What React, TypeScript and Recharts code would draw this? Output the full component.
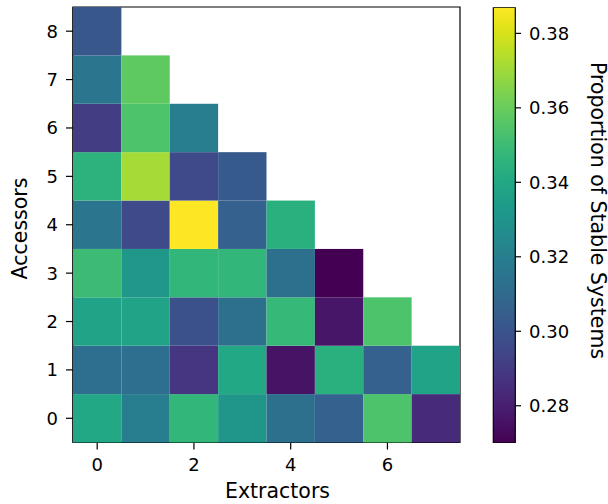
import React from "react";
import {
  ScatterChart,
  Scatter,
  XAxis,
  YAxis,
  ReferenceArea,
  BarChart,
  Bar,
} from "recharts";

const FONT = "DejaVu Sans";

// proportion of stable systems, one row per number of accessors (0..8),
// one entry per number of extractors starting at 0
const accessors = [0, 1, 2, 3, 4, 5, 6, 7, 8];
const extractors = [0, 1, 2, 3, 4, 5, 6, 7];
const row0 = [0.34, 0.319, 0.347, 0.331, 0.313, 0.306, 0.354, 0.284];
const row1 = [0.312, 0.312, 0.288, 0.34, 0.276, 0.344, 0.306, 0.338];
const row2 = [0.338, 0.338, 0.299, 0.313, 0.348, 0.277, 0.354];
const row3 = [0.35, 0.332, 0.347, 0.347, 0.313, 0.27];
const row4 = [0.316, 0.296, 0.387, 0.306, 0.344];
const row5 = [0.345, 0.371, 0.296, 0.303];
const row6 = [0.291, 0.354, 0.319];
const row7 = [0.316, 0.358];
const row8 = [0.302];
const rows = [row0, row1, row2, row3, row4, row5, row6, row7, row8];

const xTicks = [0, 2, 4, 6];
const cbTicks = [0.28, 0.3, 0.32, 0.34, 0.36, 0.38];
const VMIN = 0.27;
const VMAX = 0.387;

const viridisStops = [
  "#440154", "#471365", "#482475", "#463480", "#414487", "#3b528b",
  "#355f8d", "#2f6c8e", "#2a788e", "#25848e", "#21918c", "#1e9c89",
  "#22a884", "#2fb47c", "#44bf70", "#5ec962", "#7ad151", "#9bd93c",
  "#bddf26", "#dfe318", "#fde725",
];

function hexToRgb(h: string) {
  return [1, 3, 5].map((i) => parseInt(h.slice(i, i + 2), 16));
}

function viridis(t: number) {
  const c = Math.max(0, Math.min(1, t)) * (viridisStops.length - 1);
  const i = Math.min(Math.floor(c), viridisStops.length - 2);
  const f = c - i;
  const a = hexToRgb(viridisStops[i]);
  const b = hexToRgb(viridisStops[i + 1]);
  const m = a.map((v, k) => Math.round(v + (b[k] - v) * f));
  return `rgb(${m[0]},${m[1]},${m[2]})`;
}

const cells = rows.flatMap((r, yi) =>
  r.map((v, xi) => ({ x: extractors[xi], y: accessors[yi], v }))
);

// layout of the heatmap
const W = 470;
const H = 504;
const MARGIN = { top: 7, right: 10, bottom: 0, left: 0 };
const Y_AXIS_W = 73;
const X_AXIS_H = 61.5;
const PLOT_W = W - MARGIN.left - MARGIN.right - Y_AXIS_W;
const PLOT_H = H - MARGIN.top - MARGIN.bottom - X_AXIS_H;
const CELL_W = PLOT_W / extractors.length;
const CELL_H = PLOT_H / accessors.length;

const HeatCell = (p: any) => (
  <rect
    x={p.cx - CELL_W / 2}
    y={p.cy - CELL_H / 2}
    width={CELL_W}
    height={CELL_H}
    fill={viridis((p.payload.v - VMIN) / (VMAX - VMIN))}
  />
);

const tickStyle = { fill: "#000", fontSize: 18, fontFamily: FONT };
const axisLine = { stroke: "#000", strokeWidth: 1.2 };

export default function App() {
  return (
    <div style={{ position: "absolute", left: 0, top: 0, width: 608, height: 504, background: "#fff" }}>
      <div style={{ position: "absolute", left: 0, top: 0 }}>
        <ScatterChart width={W} height={H} margin={MARGIN}>
          <XAxis
            type="number"
            dataKey="x"
            domain={[-0.5, 7.5]}
            ticks={xTicks}
            height={X_AXIS_H}
            tick={tickStyle}
            tickSize={7}
            tickMargin={9}
            axisLine={axisLine}
            tickLine={axisLine}
            label={{
              content: () => (
                <text x={277.5} y={498} textAnchor="middle" fontSize={20.5} fontFamily={FONT} fill="#000">
                  Extractors
                </text>
              ),
            }}
          />
          <YAxis
            type="number"
            dataKey="y"
            domain={[-0.5, 8.5]}
            ticks={accessors}
            width={Y_AXIS_W}
            tick={tickStyle}
            tickSize={7}
            tickMargin={8}
            axisLine={axisLine}
            tickLine={axisLine}
            label={{
              content: () => (
                <text
                  x={27}
                  y={228.5}
                  transform="rotate(-90, 27, 228.5)"
                  textAnchor="middle"
                  fontSize={20.5}
                  fontFamily={FONT}
                  fill="#000"
                >
                  Accessors
                </text>
              ),
            }}
          />
          <Scatter data={cells} shape={HeatCell} isAnimationActive={false} />
          <ReferenceArea
            x1={-0.5}
            x2={7.5}
            y1={-0.5}
            y2={8.5}
            fill="none"
            fillOpacity={0}
            stroke="#000"
            strokeWidth={1.2}
            strokeOpacity={1}
          />
        </ScatterChart>
      </div>
      <div style={{ position: "absolute", left: 480, top: 0 }}>
        <BarChart
          width={128}
          height={504}
          data={[{ name: "cb", range: [VMIN, VMAX] }]}
          margin={{ top: 7.3, right: 0, bottom: 61, left: 13.3 }}
          barCategoryGap={0}
          barGap={0}
        >
          <defs>
            <linearGradient id="viridisGrad" x1="0" y1="1" x2="0" y2="0">
              {viridisStops.map((c, i) => (
                <stop key={i} offset={i / (viridisStops.length - 1)} stopColor={c} />
              ))}
            </linearGradient>
          </defs>
          <XAxis dataKey="name" hide />
          <YAxis
            orientation="right"
            type="number"
            domain={[VMIN, VMAX]}
            allowDataOverflow
            ticks={cbTicks}
            tickFormatter={(v: number) => v.toFixed(2)}
            width={93}
            tick={tickStyle}
            tickSize={6}
            tickMargin={8}
            axisLine={false}
            tickLine={axisLine}
            label={{
              content: () => (
                <text
                  x={110.5}
                  y={210.5}
                  transform="rotate(90, 110.5, 210.5)"
                  textAnchor="middle"
                  fontSize={20.5}
                  fontFamily={FONT}
                  fill="#000"
                >
                  Proportion of Stable Systems
                </text>
              ),
            }}
          />
          <Bar dataKey="range" fill="url(#viridisGrad)" stroke="#000" strokeWidth={1.2} isAnimationActive={false} />
        </BarChart>
      </div>
    </div>
  );
}
